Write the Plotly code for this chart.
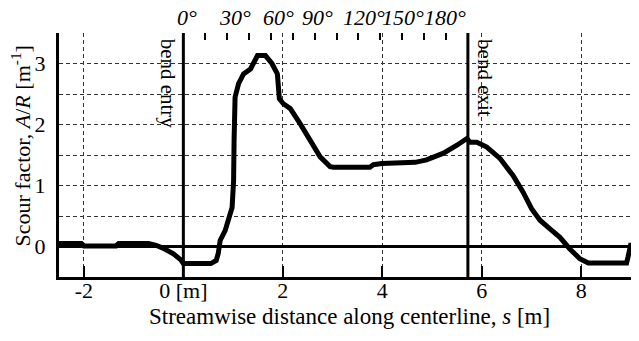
import plotly.graph_objects as go

# Streamwise distance along centerline s [m]
s = [-2.5, -2.05, -2.0, -1.35, -1.3, -0.7, -0.55, -0.4, -0.2, -0.05, 0.0, 0.55, 0.66,
     0.70, 0.74, 0.84, 0.98, 1.01, 1.02, 1.04, 1.11, 1.21, 1.35, 1.41, 1.49, 1.65,
     1.78, 1.89, 1.93, 2.01, 2.15, 2.35, 2.55, 2.75, 2.95, 3.02, 3.75, 3.82, 3.99,
     4.66, 4.89, 5.23, 5.50, 5.70, 5.76, 5.90, 6.10, 6.37, 6.63, 6.83, 7.00, 7.17,
     7.37, 7.57, 7.77, 7.97, 8.14, 8.91, 8.94, 8.99, 9.16]
# Scour factor A/R [m^-1]
scour = [0.05, 0.05, 0.01, 0.01, 0.05, 0.05, 0.02, -0.03, -0.12, -0.22, -0.28, -0.28, -0.23,
         -0.12, 0.10, 0.26, 0.64, 1.08, 1.74, 2.45, 2.67, 2.83, 2.91, 3.02, 3.13, 3.13,
         3.00, 2.83, 2.42, 2.34, 2.26, 2.01, 1.74, 1.47, 1.31, 1.30, 1.30, 1.34, 1.36,
         1.38, 1.42, 1.53, 1.66, 1.77, 1.71, 1.71, 1.63, 1.44, 1.16, 0.89, 0.62, 0.43,
         0.29, 0.15, -0.04, -0.20, -0.27, -0.27, -0.17, 0.02, 0.02]

bend_entry = 0.0
bend_exit = 5.72

x_ticks = [-2, 0, 2, 4, 6, 8]
x_ticktext = ["-2", "0 [m]", "2", "4", "6", "8"]
y_ticks = [-0.5, 0, 0.5, 1, 1.5, 2, 2.5, 3, 3.5]
y_ticktext = ["", "0", "", "1", "", "2", "", "3", ""]

# top angle ticks (measurement stations along the bend)
n_top = 13
top_ticks = [bend_entry + (bend_exit - bend_entry) * i / n_top for i in range(1, n_top)]
angle_labels = ["0°", "30°", "60°", "90°", "120°", "150°", "180°"]
angle_label_x = [0.07, 1.04, 1.91, 2.70, 3.64, 4.42, 5.26]

x_title = "Streamwise distance along centerline, <i>s</i> [m]"
y_title = "Scour factor, <i>A</i>/<i>R</i> [m<sup>-1</sup>]"

FONT = "Liberation Serif"


def f(size):
    return dict(family=FONT, size=size, color="black")


fig = go.Figure()
fig.add_trace(go.Scatter(x=s, y=scour, mode="lines",
                         line=dict(color="black", width=5), showlegend=False,
                         xaxis="x", yaxis="y"))
# invisible trace to anchor the top axis
fig.add_trace(go.Scatter(x=[s[0]], y=[scour[0]], mode="markers", marker=dict(opacity=0),
                         showlegend=False, xaxis="x2", yaxis="y", hoverinfo="skip"))

xr = [-2.5, 9.16]
fig.update_layout(
    width=631, height=333,
    margin=dict(l=51, r=0, t=25, b=64),
    paper_bgcolor="white", plot_bgcolor="white",
    font=f(22),
    xaxis=dict(range=xr, tickvals=x_ticks, ticktext=x_ticktext, tickfont=f(22),
               showgrid=True, gridcolor="#333", gridwidth=1, griddash="4px,3px",
               zeroline=False, showline=True, linecolor="black", linewidth=3,
               ticks="inside", ticklen=11, tickwidth=2, tickcolor="black",
               ticklabelstandoff=-8),
    xaxis2=dict(range=xr, overlaying="x", side="top", tickvals=top_ticks,
                showticklabels=False, ticks="inside", ticklen=7, tickwidth=1.5,
                tickcolor="black", showgrid=False, zeroline=False, showline=False),
    yaxis=dict(range=[-0.5, 3.5], tickvals=y_ticks, ticktext=y_ticktext, tickfont=f(22),
               showgrid=True, gridcolor="#333", gridwidth=1, griddash="4px,3px",
               zeroline=True, zerolinecolor="black", zerolinewidth=3,
               showline=True, linecolor="black", linewidth=3,
               ticks="", ticklabelstandoff=6),
)

# axis titles
fig.add_annotation(x=0.5, xref="paper", y=0, yref="paper", text=x_title,
                   showarrow=False, xanchor="center", yanchor="middle",
                   yshift=-39, font=f(23))
fig.add_annotation(x=0, xref="paper", y=0.535, yref="paper", text=y_title,
                   textangle=-90, showarrow=False, xanchor="center", yanchor="middle",
                   xshift=-38, font=f(22))

for xv in (bend_entry, bend_exit):
    fig.add_shape(type="line", xref="x", yref="paper", x0=xv, x1=xv, y0=0, y1=1,
                  line=dict(color="black", width=3))

fig.add_annotation(x=bend_entry, xref="x", y=1, yref="paper", text="bend entry",
                   textangle=90, showarrow=False, xanchor="right", yanchor="top",
                   xshift=-1, yshift=-4, font=f(21))
fig.add_annotation(x=bend_exit, xref="x", y=1, yref="paper", text="bend exit",
                   textangle=90, showarrow=False, xanchor="left", yanchor="top",
                   xshift=3, yshift=-4, font=f(21))

for lab, xv in zip(angle_labels, angle_label_x):
    fig.add_annotation(x=xv, xref="x", y=1, yref="paper", text=f"<i>{lab}</i>",
                       showarrow=False, xanchor="center", yanchor="bottom",
                       yshift=1, font=f(22))

fig.write_html("out.html")
